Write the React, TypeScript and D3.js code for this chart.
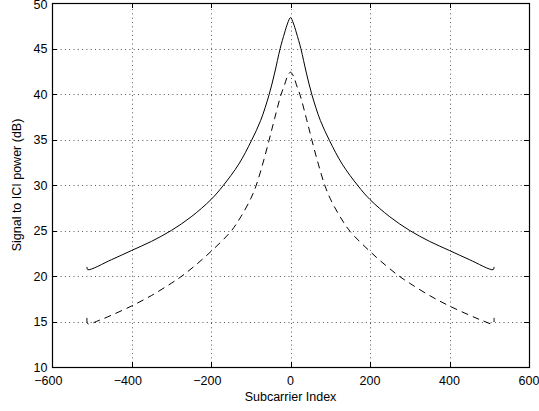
import React from "react";
import * as d3 from "d3";

const xTicks = [-600, -400, -200, 0, 200, 400, 600];
const yTicks = [10, 15, 20, 25, 30, 35, 40, 45, 50];

const solidIdx = [-512, -510, -450, -400, -350, -300, -250, -200, -170, -130, -98, -75, -54, -40, -26, -15, -7, 0, 7, 15, 26, 40, 54, 75, 98, 130, 170, 200, 250, 300, 350, 400, 450, 510, 512];
const solidVal = [21.0, 20.7, 21.8, 22.8, 23.8, 25.0, 26.5, 28.4, 29.9, 32.3, 34.9, 37.1, 39.9, 42.3, 45.0, 46.7, 47.8, 48.4, 47.8, 46.7, 45.0, 42.3, 39.9, 37.1, 34.9, 32.3, 29.9, 28.4, 26.5, 25.0, 23.8, 22.8, 21.8, 20.7, 21.0];

const dashIdx = [-512, -510, -480, -450, -400, -350, -300, -273, -240, -200, -150, -125, -100, -86, -70, -54, -40, -24, -15, -8, 0, 8, 15, 24, 40, 54, 70, 86, 100, 125, 150, 200, 240, 273, 300, 350, 400, 450, 480, 510, 512];
const dashVal = [15.4, 14.75, 15.15, 15.7, 16.7, 17.85, 19.2, 20.0, 21.15, 22.7, 24.9, 26.5, 28.5, 30.0, 32.3, 34.9, 37.3, 39.9, 41.0, 41.9, 42.4, 41.9, 41.0, 39.9, 37.3, 34.9, 32.3, 30.0, 28.5, 26.5, 24.9, 22.7, 21.15, 20.0, 19.2, 17.85, 16.7, 15.7, 15.15, 14.75, 15.4];

const W = 539;
const H = 411;
const L = 52, R = 529, T = 3, B = 367;

export default function App() {
  const x = d3.scaleLinear().domain([-600, 600]).range([L, R]);
  const y = d3.scaleLinear().domain([10, 50]).range([B, T]);
  const line = d3
    .line<[number, number]>()
    .x((d) => x(d[0]))
    .y((d) => y(d[1]))
    .curve(d3.curveCatmullRom.alpha(0.5));
  const solid = line(solidIdx.map((k, i) => [k, solidVal[i]]) as [number, number][]) || "";
  const dashed = line(dashIdx.map((k, i) => [k, dashVal[i]]) as [number, number][]) || "";
  const fmt = (v: number) => (v < 0 ? "\u2212" + Math.abs(v) : String(v));
  const font = "Liberation Sans, Arial, Helvetica, sans-serif";
  const fs = 12.5;
  const minusW = 0.584 * fs;
  const tl = 5;
  return (
    <svg width={W} height={H} style={{ position: "absolute", left: 0, top: 0, background: "#fff" }} fontFamily={font}>
      <rect x={0} y={0} width={W} height={H} fill="#fff" />
      <g stroke="#555" strokeWidth={1} strokeDasharray="1,3.3">
        {xTicks.slice(1, -1).map((t) => (
          <line key={"gx" + t} x1={Math.round(x(t)) + 0.5} x2={Math.round(x(t)) + 0.5} y1={B} y2={T} />
        ))}
        {yTicks.slice(1, -1).map((t) => (
          <line key={"gy" + t} x1={L} x2={R} y1={Math.round(y(t)) + 0.5} y2={Math.round(y(t)) + 0.5} />
        ))}
      </g>
      <path d={solid} fill="none" stroke="#000" strokeWidth={1} />
      <path d={dashed} fill="none" stroke="#000" strokeWidth={1} strokeDasharray="7,5" />
      <rect x={L + 0.5} y={T + 0.5} width={R - L} height={B - T} fill="none" stroke="#000" strokeWidth={1.2} />
      <g stroke="#000" strokeWidth={1}>
        {xTicks.map((t) => {
          const px = Math.round(x(t)) + 0.5;
          return (
            <g key={"tx" + t}>
              <line x1={px} x2={px} y1={B} y2={B - tl} />
              <line x1={px} x2={px} y1={T} y2={T + tl} />
            </g>
          );
        })}
        {yTicks.map((t) => {
          const py = Math.round(y(t)) + 0.5;
          return (
            <g key={"ty" + t}>
              <line x1={L} x2={L + tl} y1={py} y2={py} />
              <line x1={R} x2={R - tl} y1={py} y2={py} />
            </g>
          );
        })}
      </g>
      <g fontSize={fs} fill="#000">
        {xTicks.map((t) => (
          <text key={"lx" + t} x={x(t) - (t < 0 ? minusW / 2 : 0)} y={385} textAnchor="middle">
            {fmt(t)}
          </text>
        ))}
        {yTicks.map((t) => (
          <text key={"ly" + t} x={47.5} y={Math.max(y(t) + 4.8, 9.3)} textAnchor="end">
            {fmt(t)}
          </text>
        ))}
      </g>
      <text x={(L + R) / 2} y={401} textAnchor="middle" fontSize={12.5}>
        Subcarrier Index
      </text>
      <text transform={`translate(21,${(T + B) / 2}) rotate(-90)`} textAnchor="middle" fontSize={12.5}>
        Signal to ICI power (dB)
      </text>
    </svg>
  );
}
